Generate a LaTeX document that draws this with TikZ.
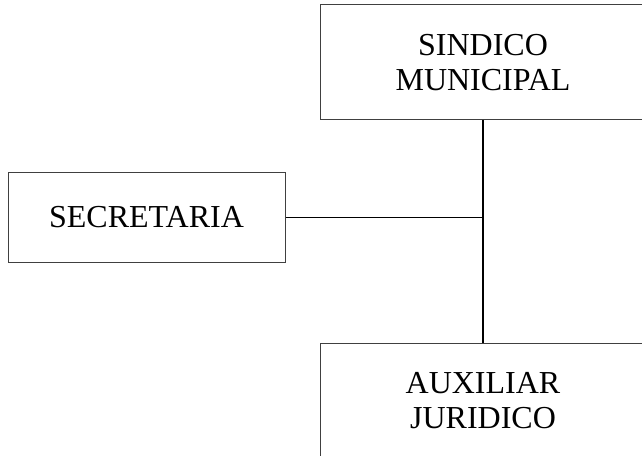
\documentclass[tikz,border=0pt]{standalone}
\usepackage{fontspec}
\setmainfont{Liberation Serif}
\usepackage{tikz}
\usetikzlibrary{calc}
\usetikzlibrary{positioning}
\tikzset{
  mybox/.style={
    draw=black!75,
    shape=rectangle,
    line width=0.75pt,
    align=center,
    inner sep=0pt,
    minimum width=244.5pt,
    minimum height=86.25pt,
    font=\fontsize{24pt}{26.5pt}\selectfont
  },
  mysmallbox/.style={
    mybox,
    minimum width=207.75pt,
    minimum height=66.75pt,
  },
  myline/.style={
    draw=black,
    line width=0.9pt,
  },
}
\begin{document}
\begin{tikzpicture}[x=0.75pt,y=-0.75pt]
    \clip (0,0) rectangle (642,456);
    \node[mybox] (S) at (483, 62.5) {SINDICO\\MUNICIPAL};
    \node[mysmallbox] (E) at (146.5, 217.5) {SECRETARIA};
    \node[mybox] (A) at (483, 400.5) {AUXILIAR\\JURIDICO};

    \coordinate (m) at (483, 217.5);

    \draw [myline] (S) -- (A);
    \draw [myline] (E) -- (m);
  \end{tikzpicture}
\end{document}
